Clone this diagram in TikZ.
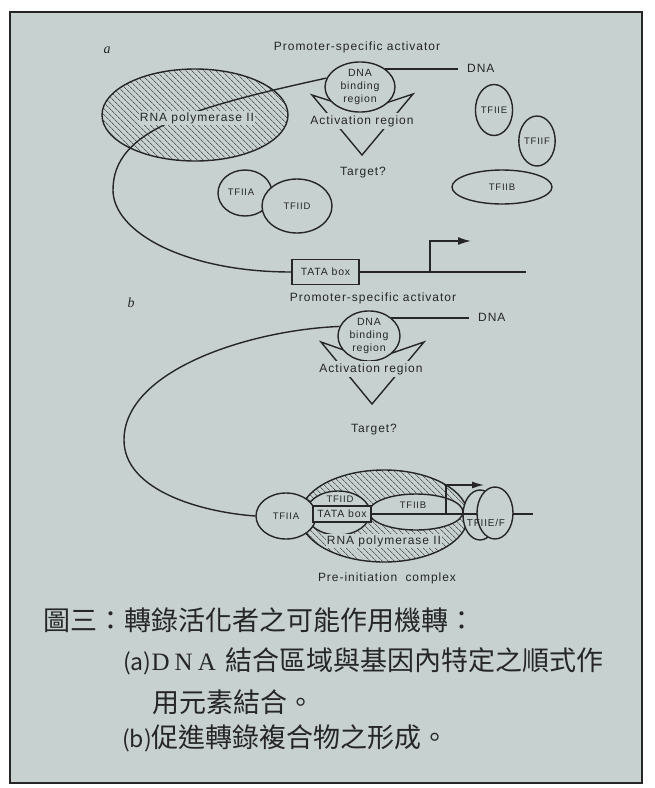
\documentclass[tikz,border=0pt]{standalone}
\usepackage{fontspec}
\setmainfont{Liberation Sans}
\newfontfamily\lblfont[LetterSpace=8]{Liberation Sans}
\newfontfamily\cjk{Noto Sans CJK TC}
\newfontfamily\serifl{Liberation Serif}
\usetikzlibrary{shapes.geometric,patterns.meta,arrows.meta}
\definecolor{bg}{RGB}{199,209,208}
\definecolor{ink}{RGB}{38,38,38}
\begin{document}
\begin{tikzpicture}[x=1pt,y=-1pt,
  lbl/.style={font=\lblfont\fontsize{12}{14}\selectfont, text=ink, inner sep=1pt},
  small/.style={font=\lblfont\fontsize{9.5}{11}\selectfont, text=ink, inner sep=0pt},
  ell/.style={ellipse, draw=ink, line width=1.4pt, fill=bg, inner sep=0pt, font=\lblfont\fontsize{9.5}{11}\selectfont, text=ink},
  hatch/.style={ellipse, draw=ink, line width=1.4pt, inner sep=0pt,
     pattern={Lines[angle=-45,distance=4pt,line width=0.55pt]}, pattern color=ink},
  wire/.style={draw=ink, line width=1.4pt},
  tss/.style={wire, -{Latex[length=13pt,width=8pt]}},
  box/.style={draw=ink, line width=1.2pt, fill=bg, inner sep=1pt, font=\lblfont\fontsize{10.5}{12}\selectfont, text=ink},
  bglbl/.style={lbl, fill=bg},
  capline/.style={font=\cjk\fontsize{27}{27}\selectfont, text=ink, anchor=west, inner sep=0pt},
  plabel/.style={font=\serifl\itshape\fontsize{14}{14}\selectfont, text=ink, inner sep=0pt}
]
\fill[white] (0,0) rectangle (654,788);
\useasboundingbox (0,0) rectangle (654,788);
\filldraw[fill=bg, draw=ink, line width=1.5pt] (10,12) rectangle (642,783);

% ---------------- panel a ----------------
\node[plabel] (la) at (107,50) {a};
\node[lbl] (psaA) at (357,47) {Promoter-specific activator};
\node[hatch, minimum width=186pt, minimum height=92pt] (polA) at (195,115) {};
\coordinate (actTLa) at (312,95);
\coordinate (actNa) at (362,111);
\coordinate (actTRa) at (413,94);
\coordinate (actTipa) at (362,155);
\draw[wire] (actTLa) -- (actNa) -- (actTRa) -- (actTipa) -- cycle;
\node[ell, minimum width=70pt, minimum height=50pt, align=center,
      font=\lblfont\fontsize{10.5}{13}\selectfont] (dnabA) at (360,87) {DNA\\binding\\region};
\node[bglbl, inner sep=2pt] (actA) at (362,121) {Activation region};
\node[lbl] (tgtA) at (363,173) {Target?};
\coordinate (dnaEndA) at (458,69);
\draw[wire] (dnabA.north east) -- (dnabA.north east -| dnaEndA);
\node[lbl, anchor=west] (dnaA) at (466,68) {DNA};
\node[box, minimum width=67pt, minimum height=25pt] (tataA) at (325.5,272) {TATA box};
\coordinate (bendA) at (113,190);
\draw[wire] (dnabA.165) .. controls (190,108) and (113,130) .. (bendA)
                     .. controls (113,232) and (185,272) .. (tataA.west);
\node[bglbl] (polAtxt) at (197,118) {RNA polymerase II};
\coordinate (dnaEndA2) at (526,272);
\draw[wire] (tataA.east) -- (dnaEndA2);
\coordinate (tssA) at (430,272);
\coordinate (tssTopA) at (430,241);
\coordinate (tssTipA) at (471,241);
\draw[tss] (tssA) -- (tssTopA) -- (tssTipA);
\node[ell, minimum width=54pt, minimum height=46pt] (tfiiaA) at (245,193) {};
\node[small] (tfiiaAt) at (241,192) {TFIIA};
\node[ell, minimum width=70pt, minimum height=54pt] (tfiidA) at (297,206) {TFIID};
\node[ell, minimum width=36pt, minimum height=51pt] (tfiieA) at (494,110) {TFIIE};
\node[ell, minimum width=36pt, minimum height=50pt] (tfiifA) at (537,141) {TFIIF};
\node[ell, minimum width=100pt, minimum height=34pt] (tfiibA) at (502,187) {TFIIB};

% ---------------- panel b ----------------
\node[plabel] (lb) at (131,303) {b};
\node[lbl] (psaB) at (373,298) {Promoter-specific activator};
\coordinate (actTLb) at (321,342);
\coordinate (actNb) at (372,360);
\coordinate (actTRb) at (424,342);
\coordinate (actTipb) at (372,404);
\draw[wire] (actTLb) -- (actNb) -- (actTRb) -- (actTipb) -- cycle;
\node[ell, minimum width=62pt, minimum height=48pt, align=center,
      font=\lblfont\fontsize{10.5}{13}\selectfont] (dnabB) at (369,336) {DNA\\binding\\region};
\node[bglbl, inner sep=2pt] (actB) at (371,369) {Activation region};
\node[lbl] (tgtB) at (374,430) {Target?};
\coordinate (dnaEndB) at (469,318);
\draw[wire] (dnabB.north east) -- (dnabB.north east -| dnaEndB);
\node[lbl, anchor=west] (dnaB) at (477,317) {DNA};

% pre-initiation complex
\node[hatch, minimum width=168pt, minimum height=92pt] (polB) at (384,516) {};
\node[ell, minimum width=64pt, minimum height=44pt] (tfiidB) at (338,513) {};
\node[ell, minimum width=94pt, minimum height=36pt] (tfiibB) at (416,512) {};
\node[small] (tfiidBt) at (340,499) {TFIID};
\node[small] (tfiibBt) at (413,505) {TFIIB};
\node[ell, minimum width=60pt, minimum height=46pt] (tfiiaB) at (286,516) {TFIIA};
\coordinate (bendB) at (124,440);
\draw[wire] (dnabB.162) .. controls (250,330) and (124,370) .. (bendB)
                     .. controls (124,490) and (200,512) .. (tfiiaB.west);
\node[box, minimum width=58pt, minimum height=16pt, inner sep=0.5pt] (tataB) at (342,514) {TATA box};
\node[ell, minimum width=34pt, minimum height=50pt] (efBack) at (480,515) {};
\coordinate (dnaEndB2) at (533,514);
\draw[wire] (tataB.east) -- (dnaEndB2);
\node[ell, minimum width=36pt, minimum height=52pt] (efFront) at (495,513) {};
\draw[wire] (efFront.east |- dnaEndB2) -- (dnaEndB2);
\coordinate (tssB) at (446,514);
\coordinate (tssTopB) at (446,485);
\coordinate (tssTipB) at (484,485);
\draw[wire, -{Latex[length=12pt,width=7pt]}] (tssB) -- (tssTopB) -- (tssTipB);
\node[small, font=\lblfont\fontsize{10}{11}\selectfont] (efTxt) at (486,523) {TFIIE/F};
\node[bglbl] (polBtxt) at (384,541) {RNA polymerase II};
\node[lbl] (pic) at (387,578) {Pre-initiation\hspace{4pt} complex};

% ---------------- caption ----------------
\node[capline] (cap1) at (43,620) {圖三：轉錄活化者之可能作用機轉：};
\node[capline] (cap2) at (123,661) {{\fontsize{23}{23}\selectfont(a)}{\serifl\fontsize{25}{25}\selectfont D\kern5pt N\kern5pt A} \hspace{4pt}結合區域與基因內特定之順式作};
\node[capline] (cap3) at (152,702) {用元素結合。};
\node[capline] (cap4) at (122,738) {{\fontsize{23}{23}\selectfont(b)}促進轉錄複合物之形成。};
\end{tikzpicture}
\end{document}
